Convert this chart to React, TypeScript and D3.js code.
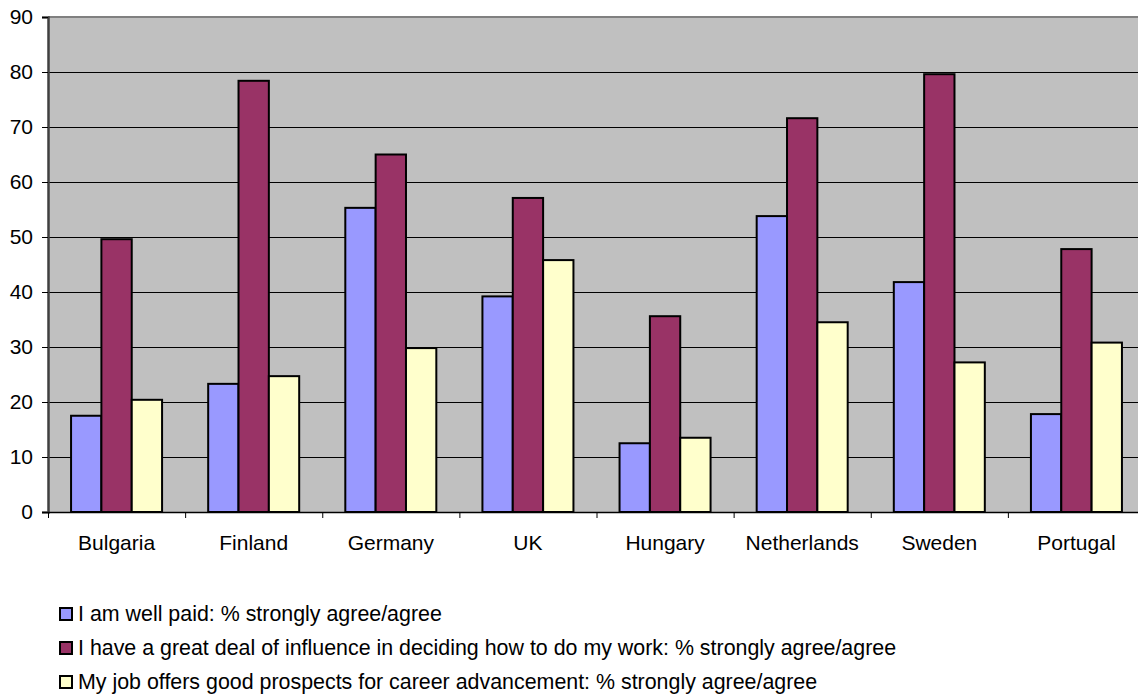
import { useEffect, useRef } from "react"
import * as d3 from "d3"

const categories = ["Bulgaria", "Finland", "Germany", "UK", "Hungary", "Netherlands", "Sweden", "Portugal"]
const wellPaid = [17.5, 23.3, 55.3, 39.2, 12.5, 53.8, 41.8, 17.8]
const influence = [49.6, 78.4, 65.0, 57.1, 35.6, 71.6, 79.6, 47.8]
const prospects = [20.4, 24.7, 29.8, 45.8, 13.5, 34.5, 27.2, 30.8]
const seriesNames = [
  "I am well paid: % strongly agree/agree",
  "I have a great deal of influence in deciding how to do my work: % strongly agree/agree",
  "My job offers good prospects for career advancement: % strongly agree/agree",
]
const seriesColors = ["#9999FF", "#993366", "#FFFFCC"]
const yTicks = [0, 10, 20, 30, 40, 50, 60, 70, 80, 90]

export default function App() {
  const svgRef = useRef<SVGSVGElement>(null)

  useEffect(() => {
    if (!svgRef.current) return
    const width = 1138
    const height = 695
    const margin = { top: 17, left: 48, bottom: 183 }
    const plotRight = 1145

    const svg = d3.select(svgRef.current).attr("width", width).attr("height", height)
    svg.selectAll("*").remove()

    const series = [wellPaid, influence, prospects]

    const x = d3.scaleBand().domain(categories).range([margin.left, plotRight])
    const y = d3.scaleLinear().domain([0, 90]).range([height - margin.bottom, margin.top])
    const inner = d3
      .scaleBand<number>()
      .domain([0, 1, 2])
      .range([0, x.bandwidth()])
      .paddingInner(0)
      .paddingOuter(0.76)

    const font = "'Liberation Sans', Arial, sans-serif"
    const fontSize = "21px"

    // plot background
    svg
      .append("rect")
      .attr("x", margin.left)
      .attr("y", y(90))
      .attr("width", plotRight - margin.left)
      .attr("height", y(0) - y(90))
      .attr("fill", "#C0C0C0")

    // gridlines
    svg
      .append("g")
      .selectAll("line")
      .data(yTicks.filter((t) => t > 0 && t < 90))
      .enter()
      .append("line")
      .attr("x1", margin.left)
      .attr("x2", plotRight)
      .attr("y1", (d) => Math.round(y(d)) + 0.5)
      .attr("y2", (d) => Math.round(y(d)) + 0.5)
      .attr("stroke", "#000")
      .attr("stroke-width", 1)

    // top border
    svg
      .append("line")
      .attr("x1", margin.left)
      .attr("x2", plotRight)
      .attr("y1", y(90))
      .attr("y2", y(90))
      .attr("stroke", "#808080")
      .attr("stroke-width", 2)

    // bars
    series.forEach((vals, si) => {
      svg
        .append("g")
        .selectAll("rect")
        .data(vals)
        .enter()
        .append("rect")
        .attr("x", (_, i) => (x(categories[i]) || 0) + (inner(si) || 0))
        .attr("y", (d) => y(d))
        .attr("width", inner.bandwidth())
        .attr("height", (d) => y(0) - y(d))
        .attr("fill", seriesColors[si])
        .attr("stroke", "#000")
        .attr("stroke-width", 2)
    })

    // y axis
    const yAxis = svg
      .append("g")
      .attr("transform", `translate(${margin.left},0)`)
      .call(d3.axisLeft(y).tickValues(yTicks).tickSize(6).tickPadding(9))
    yAxis.select(".domain").attr("stroke", "#404040").attr("stroke-width", 2.5)
    yAxis.selectAll(".tick line").attr("stroke", "#000")
    yAxis
      .selectAll("text")
      .style("font-family", font)
      .style("font-size", fontSize)
      .attr("fill", "#000")

    // x axis
    const xAxis = svg
      .append("g")
      .attr("transform", `translate(0,${y(0)})`)
      .call(d3.axisBottom(x).tickSize(0).tickPadding(23))
    xAxis.select(".domain").attr("stroke", "#000").attr("stroke-width", 1.5)
    xAxis
      .selectAll("text")
      .style("font-family", font)
      .style("font-size", fontSize)
      .attr("fill", "#000")

    // category separators
    svg
      .append("g")
      .selectAll("line")
      .data(categories)
      .enter()
      .append("line")
      .attr("x1", (d) => (x(d) || 0) + 0.5)
      .attr("x2", (d) => (x(d) || 0) + 0.5)
      .attr("y1", y(0))
      .attr("y2", y(0) + 6)
      .attr("stroke", "#000")

    // legend
    const legend = svg.append("g").attr("transform", "translate(60,0)")
    seriesNames.forEach((name, i) => {
      const cy = 614 + i * 34
      legend
        .append("rect")
        .attr("x", 0)
        .attr("y", cy - 6)
        .attr("width", 12)
        .attr("height", 12)
        .attr("fill", seriesColors[i])
        .attr("stroke", "#000")
        .attr("stroke-width", 2)
      legend
        .append("text")
        .attr("x", 18)
        .attr("y", cy)
        .attr("dy", "0.34em")
        .style("font-family", font)
        .style("font-size", "21.4px")
        .attr("fill", "#000")
        .text(name)
    })
  }, [])

  return <svg ref={svgRef} style={{ position: "absolute", left: 0, top: 0 }}></svg>
}
